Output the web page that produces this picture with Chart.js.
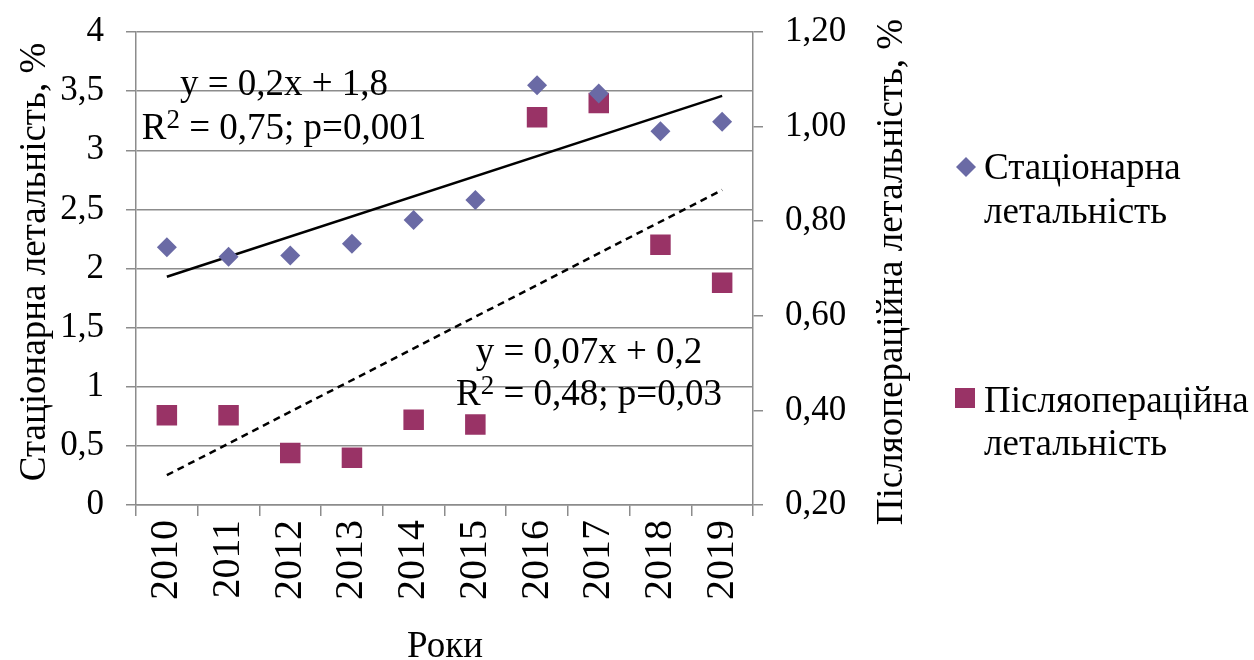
<!DOCTYPE html>
<html>
<head>
<meta charset="utf-8">
<script src="https://cdn.jsdelivr.net/npm/chart.js@4.4.1/dist/chart.umd.min.js"></script>
<style>
  html, body { margin: 0; padding: 0; background: #ffffff; }
  #wrap { width: 1254px; height: 660px; position: relative; }
</style>
</head>
<body>
<div id="wrap"><canvas id="chart" width="1254" height="660"></canvas></div>
<script>
// Years on the category axis
const years = ['2010', '2011', '2012', '2013', '2014', '2015', '2016', '2017', '2018', '2019'];
// Hospital (in-patient) lethality, % — left axis
const stationary = [2.18, 2.10, 2.11, 2.21, 2.41, 2.58, 3.55, 3.48, 3.16, 3.24];
// Post-operative lethality, % — right axis
const postoperative = [0.39, 0.39, 0.31, 0.30, 0.38, 0.37, 1.02, 1.05, 0.75, 0.67];
// Linear trend values at the first and last year
const stationaryTrend = [1.93, 3.46];
const postoperativeTrend = [0.263, 0.866];
// Axis ticks
const leftTicks = [0, 0.5, 1, 1.5, 2, 2.5, 3, 3.5, 4];
const rightTicks = [0.2, 0.4, 0.6, 0.8, 1.0, 1.2];
// Texts
const seriesNames = [['Стаціонарна', 'летальність'], ['Післяопераційна', 'летальність']];
const leftTitle = 'Стаціонарна летальність, %';
const rightTitle = 'Післяопераційна летальність, %';
const xTitle = 'Роки';
const stationaryEq = ['y = 0,2x + 1,8', 'R', '2', ' = 0,75; p=0,001'];
const postoperativeEq = ['y = 0,07x + 0,2', 'R', '2', ' = 0,48; p=0,03'];

const FONT = '"Liberation Serif", "Times New Roman", serif';
const GRID = '#8c8c8c';
const BLUE = '#6a6aa5';
const PLUM = '#993366';

function trendSeries(ends) {
  return years.map((_, i) => i === 0 ? ends[0] : (i === years.length - 1 ? ends[1] : null));
}

function richLine(ctx, parts, cx, baseline, size) {
  // parts: [plain, base, superscript, plain]
  const [_, base, sup, rest] = parts;
  const supSize = Math.round(size * 0.74);
  ctx.font = size + 'px ' + FONT;
  const wBase = ctx.measureText(base).width;
  const wRest = ctx.measureText(rest).width;
  ctx.font = supSize + 'px ' + FONT;
  const wSup = ctx.measureText(sup).width;
  let x = cx - (wBase + wSup + wRest) / 2;
  ctx.textAlign = 'left';
  ctx.font = size + 'px ' + FONT;
  ctx.fillText(base, x, baseline); x += wBase;
  ctx.font = supSize + 'px ' + FONT;
  ctx.fillText(sup, x, baseline - size * 0.3); x += wSup;
  ctx.font = size + 'px ' + FONT;
  ctx.fillText(rest, x, baseline);
}

function fixVerticalPadding(s) {
  s.paddingTop = 10;
  s.paddingBottom = 10;
}

const decorations = {
  id: 'decorations',
  afterDraw(chart) {
    const ctx = chart.ctx;
    ctx.save();
    ctx.fillStyle = '#000';
    ctx.textBaseline = 'alphabetic';

    // axis titles
    ctx.font = '37px ' + FONT;
    ctx.textAlign = 'center';
    ctx.save();
    ctx.translate(45, 262);
    ctx.rotate(-Math.PI / 2);
    ctx.fillText(leftTitle, 0, 0);
    ctx.restore();
    ctx.save();
    ctx.translate(902, 272);
    ctx.rotate(-Math.PI / 2);
    ctx.fillText(rightTitle, 0, 0);
    ctx.restore();
    ctx.fillText(xTitle, 445, 657);

    // regression equations
    ctx.font = '37px ' + FONT;
    ctx.textAlign = 'center';
    ctx.fillText(stationaryEq[0], 284, 95);
    richLine(ctx, stationaryEq, 284, 139, 37);
    ctx.textAlign = 'center';
    ctx.fillText(postoperativeEq[0], 589, 363);
    richLine(ctx, postoperativeEq, 589, 405, 37);

    // legend
    ctx.fillStyle = BLUE;
    ctx.beginPath();
    ctx.moveTo(966, 157); ctx.lineTo(976, 167); ctx.lineTo(966, 177); ctx.lineTo(956, 167);
    ctx.closePath(); ctx.fill();
    ctx.fillStyle = PLUM;
    ctx.fillRect(955, 388, 20, 20);
    ctx.fillStyle = '#000';
    ctx.textAlign = 'left';
    ctx.font = '37px ' + FONT;
    ctx.fillText(seriesNames[0][0], 984, 179);
    ctx.fillText(seriesNames[0][1], 984, 223);
    ctx.fillText(seriesNames[1][0], 984, 412);
    ctx.fillText(seriesNames[1][1], 984, 455);
    ctx.restore();
  }
};

new Chart(document.getElementById('chart'), {
  type: 'line',
  data: {
    labels: years,
    datasets: [
      {
        label: 'Лінійний тренд (стаціонарна)',
        data: trendSeries(stationaryTrend),
        yAxisID: 'y',
        borderColor: '#000',
        borderWidth: 2.5,
        pointRadius: 0,
        spanGaps: true,
        order: 3
      },
      {
        label: 'Лінійний тренд (післяопераційна)',
        data: trendSeries(postoperativeTrend),
        yAxisID: 'y1',
        borderColor: '#000',
        borderWidth: 2.5,
        borderDash: [7, 5],
        pointRadius: 0,
        spanGaps: true,
        order: 3
      },
      {
        label: seriesNames[0].join(' '),
        data: stationary,
        yAxisID: 'y',
        showLine: false,
        pointStyle: 'rectRot',
        pointRadius: 10,
        pointBackgroundColor: BLUE,
        pointBorderColor: BLUE,
        pointBorderWidth: 0,
        order: 1
      },
      {
        label: seriesNames[1].join(' '),
        data: postoperative,
        yAxisID: 'y1',
        showLine: false,
        pointStyle: 'rect',
        pointRadius: 14.5,
        pointBackgroundColor: PLUM,
        pointBorderColor: PLUM,
        pointBorderWidth: 0,
        order: 2
      }
    ]
  },
  options: {
    responsive: false,
    animation: false,
    layout: { padding: { left: 0, top: 32, right: 351, bottom: 0 } },
    plugins: { legend: { display: false }, tooltip: { enabled: false } },
    scales: {
      x: {
        type: 'category',
        offset: true,
        grid: { drawOnChartArea: false, drawTicks: true, tickLength: 11, offset: true, color: GRID, lineWidth: 1.5 },
        border: { display: true, color: GRID, width: 1.5 },
        ticks: { minRotation: 90, maxRotation: 90, autoSkip: false, padding: 4, color: '#000', font: { family: FONT, size: 40 } },
        afterFit(s) { s.height = 155; }
      },
      y: {
        position: 'left',
        min: 0, max: 4,
        afterBuildTicks(s) { s.ticks = leftTicks.map(v => ({ value: v })); },
        grid: { color: GRID, lineWidth: 1.5, drawTicks: true, tickLength: 10 },
        border: { display: true, color: GRID, width: 1.5 },
        ticks: { padding: 22, color: '#000', font: { family: FONT, size: 35 },
                 callback: v => String(v).replace('.', ',') },
        afterFit(s) { s.width = 136; fixVerticalPadding(s); }
      },
      y1: {
        position: 'right',
        min: 0.2, max: 1.2,
        afterBuildTicks(s) { s.ticks = rightTicks.map(v => ({ value: v })); },
        grid: { drawOnChartArea: false, drawTicks: true, tickLength: 10, color: GRID, lineWidth: 1.5 },
        border: { display: true, color: GRID, width: 1.5 },
        ticks: { padding: 22, color: '#000', font: { family: FONT, size: 35 },
                 callback: v => v.toFixed(2).replace('.', ',') },
        afterFit(s) { s.width = 150; fixVerticalPadding(s); }
      }
    }
  },
  plugins: [decorations]
});
</script>
</body>
</html>
